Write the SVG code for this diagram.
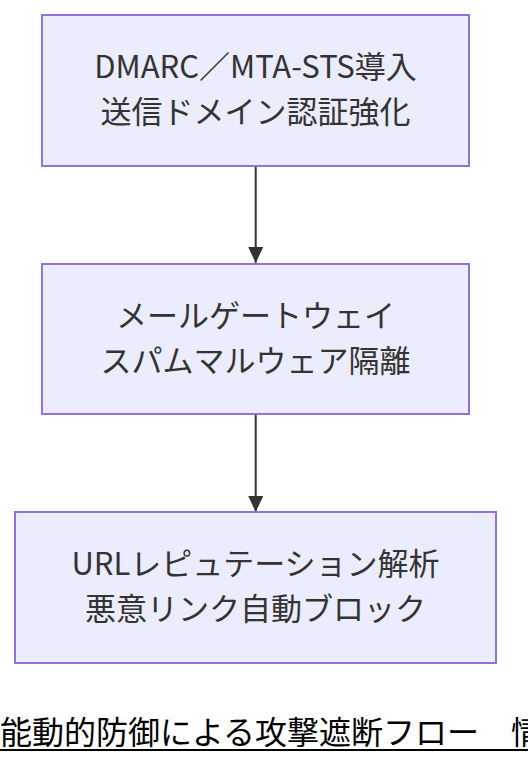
<svg xmlns="http://www.w3.org/2000/svg" width="528" height="764" viewBox="0 0 528 764">
<style>
.node rect{fill:#ECECFF;stroke:#9370DB;stroke-width:2}
.lbl{font-family:"Noto Sans CJK JP","Noto Sans",sans-serif;font-size:31px;font-weight:400;fill:#333;text-anchor:middle}
.edge{stroke:#333;stroke-width:2;fill:none}
.title{font-family:"Noto Sans CJK JP","DejaVu Sans",sans-serif;font-size:32px;fill:#000}
</style>
<defs>
<marker id="arr" viewBox="0 0 16 15" refX="16" refY="7.5" markerUnits="userSpaceOnUse" markerWidth="16" markerHeight="15" orient="auto">
<path d="M0,0 L16,7.5 L0,15 z" fill="#333"/>
</marker>
</defs>
<g id="connectors">
<path class="edge" d="M255.7,166 L255.7,263" marker-end="url(#arr)"/>
<path class="edge" d="M255.7,414 L255.7,512" marker-end="url(#arr)"/>
</g>
<g id="n1" class="node">
<rect x="42" y="15" width="427" height="151"/>
<text class="lbl" x="255.5" y="78">DMARC／MTA-STS導入</text>
<text class="lbl" x="255.5" y="123">送信ドメイン認証強化</text>
</g>
<g id="n2" class="node">
<rect x="42" y="264" width="427" height="150"/>
<text class="lbl" x="255.5" y="327">メールゲートウェイ</text>
<text class="lbl" x="255.5" y="372">スパムマルウェア隔離</text>
</g>
<g id="n3" class="node">
<rect x="15" y="512" width="481" height="151"/>
<text class="lbl" x="255.5" y="575">URLレピュテーション解析</text>
<text class="lbl" x="255.5" y="620">悪意リンク自動ブロック</text>
</g>
<g id="title">
<text class="title" x="0" y="744">能動的防御による攻撃遮断フロー　情</text>
<line x1="0" y1="750" x2="528" y2="750" stroke="#000" stroke-width="2"/>
</g>
</svg>
